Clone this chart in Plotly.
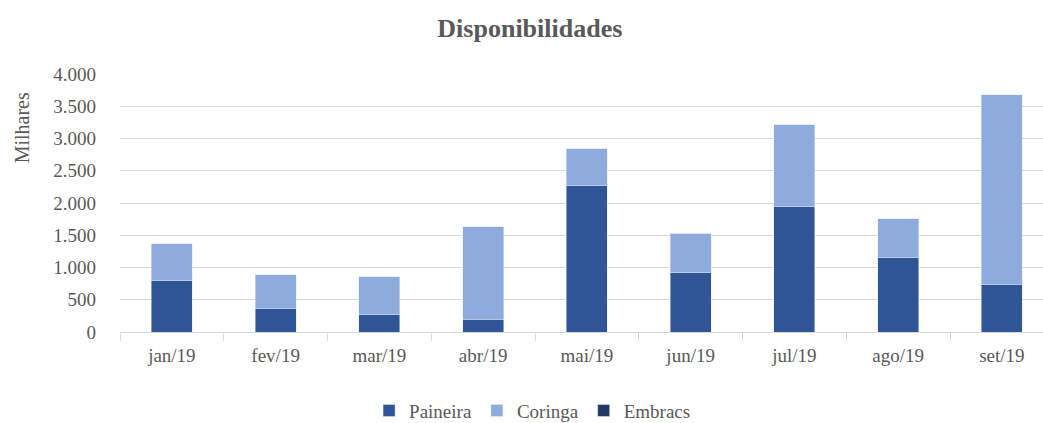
import plotly.graph_objects as go

months = ["jan/19", "fev/19", "mar/19", "abr/19", "mai/19", "jun/19", "jul/19", "ago/19", "set/19"]
paineira = [800, 370, 270, 200, 2265, 920, 1940, 1150, 740]
coringa = [570, 515, 585, 1430, 575, 610, 1270, 605, 2935]
embracs = [0, 0, 0, 0, 0, 0, 0, 0, 0]

tick_vals = [0, 500, 1000, 1500, 2000, 2500, 3000, 3500, 4000]
tick_text = ["0", "500", "1.000", "1.500", "2.000", "2.500", "3.000", "3.500", "4.000"]

font_family = "'Liberation Serif', 'Times New Roman', serif"
gray = "#595959"

fig = go.Figure()
fig.add_trace(go.Bar(name="Paineira", x=months, y=paineira, marker_color="#2F5597"))
fig.add_trace(go.Bar(name="Coringa", x=months, y=coringa, marker_color="#8FAADC"))
fig.add_trace(go.Bar(name="Embracs", x=months, y=embracs, marker_color="#203864"))

fig.update_layout(
    barmode="stack",
    bargap=0.605,
    width=1043,
    height=423,
    paper_bgcolor="white",
    plot_bgcolor="white",
    margin=dict(l=120, r=0, t=74, b=91, autoexpand=False),
    font=dict(family=font_family, color=gray, size=19),
    title=dict(text="<b>Disponibilidades</b>", x=0.508, xanchor="center", y=0.935, yanchor="middle",
               font=dict(size=26, color=gray, family=font_family)),
    legend=dict(orientation="h", x=0.447, xanchor="center", y=-0.305, yanchor="middle",
                font=dict(size=19, color=gray, family=font_family), traceorder="normal",
                itemwidth=30),
    showlegend=True,
    annotations=[dict(text="Milhares", xref="paper", yref="paper", x=-0.106, y=0.79,
                      xanchor="center", yanchor="middle", textangle=-90, showarrow=False,
                      font=dict(size=20, color=gray, family=font_family))],
)
fig.update_xaxes(
    range=[-0.5, 8.396],
    showline=True, linecolor="#D9D9D9", linewidth=1,
    ticks="outside", tickson="boundaries", ticklen=8, tickcolor="#D9D9D9",
    tickfont=dict(size=19, color=gray, family=font_family), showgrid=False,
    ticklabelstandoff=6,
)
fig.update_yaxes(
    range=[0, 4000], tickvals=tick_vals, ticktext=tick_text,
    showgrid=True, gridcolor="#D9D9D9", gridwidth=1, zeroline=False,
    tickfont=dict(size=19, color=gray, family=font_family),
    ticks="", showline=False, ticklabelstandoff=23,
)

fig.write_html("out.html", config={"displayModeBar": False},
               post_script="document.body.style.margin='0px';")
